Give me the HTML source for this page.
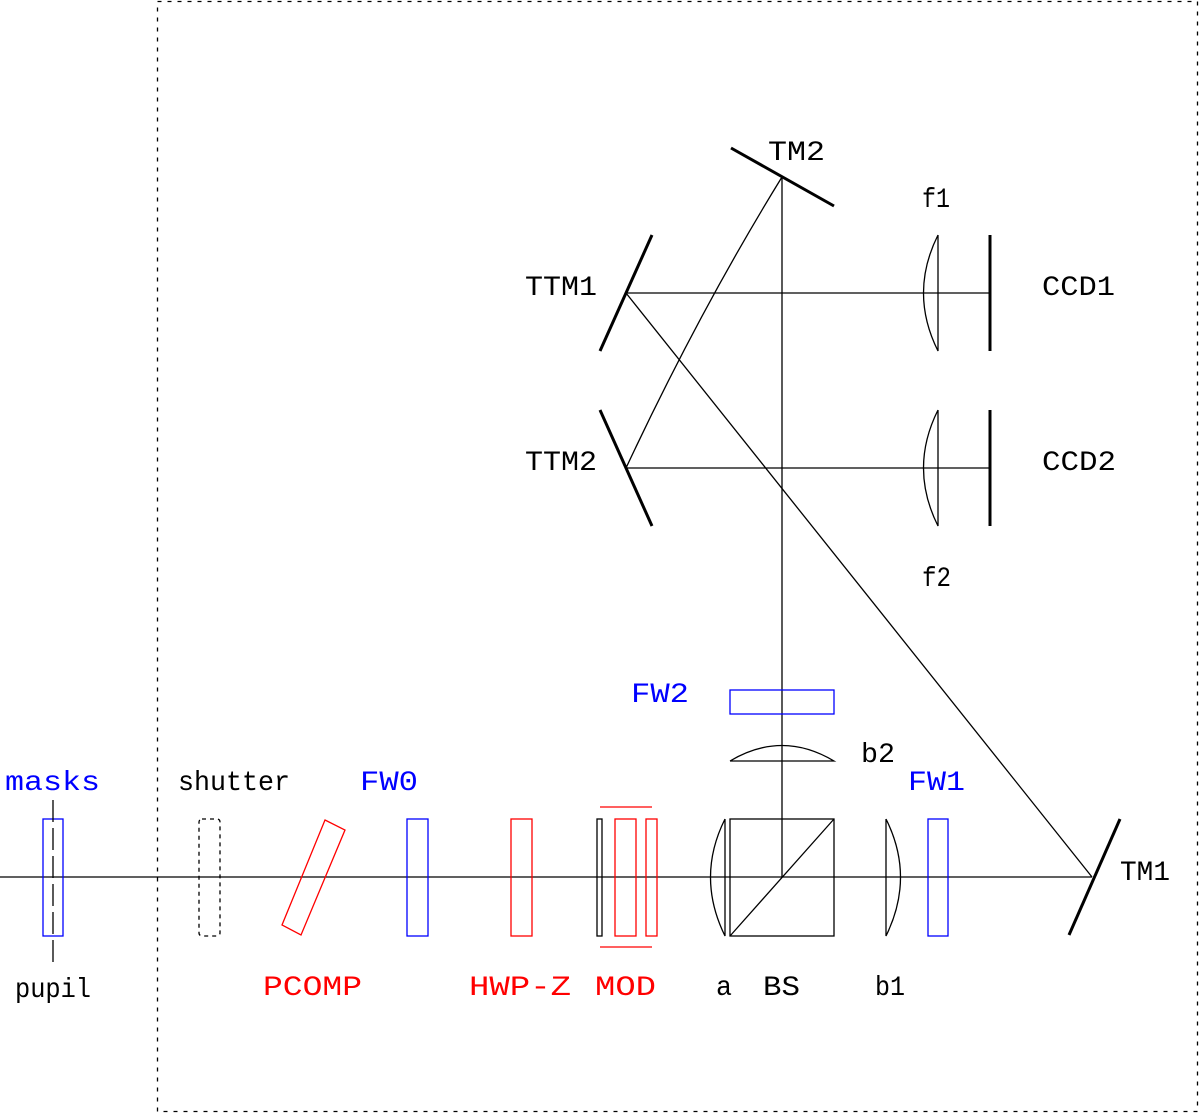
<!DOCTYPE html>
<html><head><meta charset="utf-8"><style>html,body{margin:0;padding:0;background:#fff}svg{display:block}text{font-family:"Liberation Mono",monospace;font-size:28px}</style></head><body>
<svg width="1200" height="1113" viewBox="0 0 1200 1113" xmlns="http://www.w3.org/2000/svg" fill="none" stroke="#000" stroke-width="1.3">
<rect x="157.5" y="1.5" width="1040" height="1110" stroke-dasharray="4,6"/>
<line x1="0" y1="877" x2="1092" y2="877"/>
<rect x="43" y="819" width="20" height="117" stroke="#00f"/>
<line x1="53" y1="800" x2="53" y2="966" stroke-dasharray="22,6"/>
<rect x="199" y="819" width="21" height="117" rx="3" stroke-dasharray="4,4"/>
<polygon points="325,820 345,830 301,935 282,925" stroke="#f00"/>
<rect x="407" y="819" width="21" height="117" stroke="#00f"/>
<rect x="511" y="819" width="21" height="117" stroke="#f00"/>
<rect x="597" y="819" width="5" height="117"/>
<rect x="615" y="819" width="21" height="117" stroke="#f00"/>
<rect x="646" y="819" width="11" height="117" stroke="#f00"/>
<line x1="600" y1="807" x2="652" y2="807" stroke="#f00"/>
<line x1="600" y1="947" x2="652" y2="947" stroke="#f00"/>
<path d="M725,819 L725,936 Q696,877 725,819"/>
<rect x="730" y="819" width="104" height="117"/>
<line x1="730" y1="936" x2="834" y2="819"/>
<line x1="782" y1="177" x2="782" y2="877"/>
<path d="M886,819 L886,936 Q915,877 886,819"/>
<rect x="928" y="819" width="20" height="117" stroke="#00f"/>
<line x1="1069" y1="935" x2="1120" y2="819" stroke-width="3"/>
<line x1="1092" y1="877" x2="626" y2="293"/>
<path d="M730,761 L834,761 Q782,730 730,761"/>
<rect x="730" y="690" width="104" height="24" stroke="#00f"/>
<line x1="731" y1="148" x2="834" y2="206" stroke-width="3"/>
<path d="M782,177 Q700,310 626,468"/>
<line x1="600" y1="351" x2="652" y2="235" stroke-width="3"/>
<line x1="600" y1="410" x2="652" y2="526" stroke-width="3"/>
<line x1="626" y1="293" x2="990" y2="293"/>
<line x1="626" y1="468" x2="990" y2="468"/>
<path d="M938,235 L938,351 Q909,293 938,235"/>
<path d="M938,410 L938,526 Q909,468 938,410"/>
<line x1="990" y1="235" x2="990" y2="351" stroke-width="3"/>
<line x1="990" y1="410" x2="990" y2="526" stroke-width="3"/>
<g stroke="none" fill="#000" lengthAdjust="spacingAndGlyphs">
<text x="5" y="790" fill="#00f" textLength="95" lengthAdjust="spacingAndGlyphs">masks</text>
<text x="178" y="790" textLength="112" lengthAdjust="spacingAndGlyphs">shutter</text>
<text x="360" y="790" fill="#00f" textLength="58" lengthAdjust="spacingAndGlyphs">FW0</text>
<text x="15" y="997" textLength="76" lengthAdjust="spacingAndGlyphs">pupil</text>
<text x="263" y="995" fill="#f00" textLength="99" lengthAdjust="spacingAndGlyphs">PCOMP</text>
<text x="469" y="995" fill="#f00" textLength="102" lengthAdjust="spacingAndGlyphs">HWP-Z</text>
<text x="595" y="995" fill="#f00" textLength="61" lengthAdjust="spacingAndGlyphs">MOD</text>
<text x="716" y="995" textLength="16" lengthAdjust="spacingAndGlyphs">a</text>
<text x="763" y="995" textLength="37" lengthAdjust="spacingAndGlyphs">BS</text>
<text x="875" y="995" textLength="30" lengthAdjust="spacingAndGlyphs">b1</text>
<text x="908" y="790" fill="#00f" textLength="57" lengthAdjust="spacingAndGlyphs">FW1</text>
<text x="1120" y="880" textLength="50" lengthAdjust="spacingAndGlyphs">TM1</text>
<text x="861" y="762" textLength="34" lengthAdjust="spacingAndGlyphs">b2</text>
<text x="631" y="702" fill="#00f" textLength="58" lengthAdjust="spacingAndGlyphs">FW2</text>
<text x="768" y="160" textLength="57" lengthAdjust="spacingAndGlyphs">TM2</text>
<text x="922" y="207" textLength="28" lengthAdjust="spacingAndGlyphs">f1</text>
<text x="525" y="295" textLength="72" lengthAdjust="spacingAndGlyphs">TTM1</text>
<text x="1042" y="295" textLength="73" lengthAdjust="spacingAndGlyphs">CCD1</text>
<text x="525" y="470" textLength="72" lengthAdjust="spacingAndGlyphs">TTM2</text>
<text x="1042" y="470" textLength="74" lengthAdjust="spacingAndGlyphs">CCD2</text>
<text x="922" y="586" textLength="29" lengthAdjust="spacingAndGlyphs">f2</text>
</g>
</svg>
</body></html>
